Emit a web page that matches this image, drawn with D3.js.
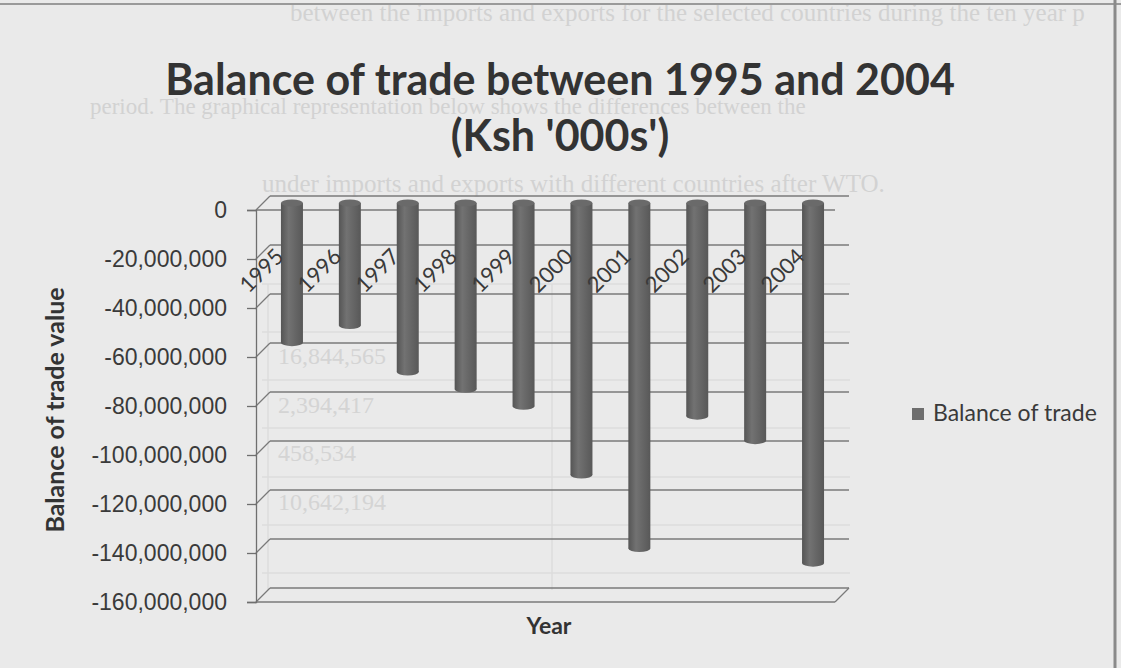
<!DOCTYPE html>
<meta charset="utf-8">
<style>
body { margin: 0; background: #eaeaea; }
svg { display: block; font-family: Lato, "Open Sans", sans-serif; }
.axis path, .axis line { stroke: #6f6f6f; stroke-width: 1.3; fill: none; }
.axis text { fill: #3a3a3a; font-size: 23px; }
.grid line { stroke: #7a7a7a; stroke-width: 1.3; }
.bleed { fill: #d2d2d2; font-family: "Liberation Serif", serif; font-size: 25px; }
.bnum { fill: #d4d4d4; font-family: "Liberation Serif", serif; font-size: 24px; }
.table line { stroke: #dcdcdc; stroke-width: 1.5; }
</style>
<body>
<script src="https://d3js.org/d3.v7.min.js"></script>
<script>
// data (Ksh '000s)
var years = ["1995", "1996", "1997", "1998", "1999", "2000", "2001", "2002", "2003", "2004"];
var balance = [-57000000, -50000000, -69000000, -76000000, -83000000,
               -111000000, -141000000, -87000000, -97000000, -147000000];
var yTicks = [0, -20000000, -40000000, -60000000, -80000000, -100000000,
              -120000000, -140000000, -160000000];
var seriesName = "Balance of trade";
// page text showing through the scan
var bleedLines = [
    "between the imports and exports for the selected countries during the ten year p",
    "period. The graphical representation below shows the differences between the",
    "under imports and exports with different countries after WTO."
];
var bleedNumbers = ["16,844,565", "2,394,417", "458,534", "10,642,194"];

var width = 1121, height = 668;
var dx = 14, dy = -14;          // depth of the 3d box
var barW = 22;

var svg = d3.select("body").append("svg")
    .attr("width", width)
    .attr("height", height);

var defs = svg.append("defs");
var grad = defs.append("linearGradient").attr("id", "cyl");
grad.append("stop").attr("offset", "0%").attr("stop-color", "#555");
grad.append("stop").attr("offset", "35%").attr("stop-color", "#727272");
grad.append("stop").attr("offset", "100%").attr("stop-color", "#585858");

// faint page behind the chart
var bleedPos = [[290, 21], [90, 114], [262, 192]];
svg.selectAll(".bleed").data(bleedLines).enter().append("text")
    .attr("class", "bleed")
    .attr("x", function(d, i) { return bleedPos[i][0]; })
    .attr("y", function(d, i) { return bleedPos[i][1]; })
    .style("font-size", function(d, i) { return i == 1 ? "23px" : null; })
    .text(function(d) { return d; });
svg.selectAll(".bnum").data(bleedNumbers).enter().append("text")
    .attr("class", "bnum")
    .attr("x", 278)
    .attr("y", function(d, i) { return 364 + i * 48.5; })
    .text(function(d) { return d; });
var table = svg.append("g").attr("class", "table");
table.selectAll(".row").data([284, 332, 380, 428, 477, 525, 573]).enter().append("line")
    .attr("x1", 262).attr("x2", 850)
    .attr("y1", function(d) { return d; }).attr("y2", function(d) { return d; });
table.selectAll(".col").data([268, 552]).enter().append("line")
    .attr("x1", function(d) { return d; }).attr("x2", function(d) { return d; })
    .attr("y1", 284).attr("y2", 590);

svg.append("line").attr("x1", 0).attr("x2", width).attr("y1", 4).attr("y2", 4)
    .attr("stroke", "#9a9a9a").attr("stroke-width", 2);
svg.append("line").attr("x1", 1115).attr("x2", 1115).attr("y1", 0).attr("y2", height)
    .attr("stroke", "#8a8a8a").attr("stroke-width", 3);

// scales
var x = d3.scaleBand().domain(years).range([256, 835]);
var y = d3.scaleLinear().domain([-160000000, 0]).range([602, 210]);

var x0 = x.range()[0], x1 = x.range()[1];

// back wall gridlines and side wall diagonals
var grid = svg.append("g").attr("class", "grid");
grid.selectAll(".back").data(yTicks).enter().append("line")
    .attr("x1", x0 + dx).attr("x2", x1 + dx)
    .attr("y1", function(d) { return y(d) + dy; })
    .attr("y2", function(d) { return y(d) + dy; });
grid.selectAll(".side").data(yTicks).enter().append("line")
    .attr("x1", x0).attr("x2", x0 + dx)
    .attr("y1", function(d) { return y(d); })
    .attr("y2", function(d) { return y(d) + dy; });
// front edges of the floor (at 0) and the base
grid.append("line").attr("x1", x0).attr("x2", x1)
    .attr("y1", y(0)).attr("y2", y(0));
grid.append("line").attr("x1", x0).attr("x2", x1)
    .attr("y1", y(-160000000)).attr("y2", y(-160000000));
grid.append("line").attr("x1", x1).attr("x2", x1 + dx)
    .attr("y1", y(-160000000)).attr("y2", y(-160000000) + dy);

// y axis
var fmt = d3.format(",");
svg.append("g")
    .attr("class", "axis")
    .attr("transform", "translate(" + x0 + ",0)")
    .call(d3.axisLeft(y).tickValues(yTicks).tickSizeInner(9).tickSizeOuter(9).tickPadding(20)
        .tickFormat(function(d) { return fmt(d).replace("\u2212", "-"); }));

// cylinders
var data = years.map(function(d, i) { return {year: d, value: balance[i]}; });
var bars = svg.selectAll(".bar").data(data).enter().append("g").attr("class", "bar");
function cx(d) { return x(d.year) + x.bandwidth() / 2 + dx / 2; }
bars.append("rect")
    .attr("x", function(d) { return cx(d) - barW / 2; })
    .attr("y", y(0) + dy / 2)
    .attr("width", barW)
    .attr("height", function(d) { return y(d.value) - y(0); })
    .attr("fill", "url(#cyl)");
bars.append("ellipse")
    .attr("cx", cx)
    .attr("cy", function(d) { return y(d.value) + dy / 2; })
    .attr("rx", barW / 2).attr("ry", 3.5)
    .attr("fill", "url(#cyl)");
bars.append("ellipse")
    .attr("cx", cx)
    .attr("cy", y(0) + dy / 2)
    .attr("rx", barW / 2).attr("ry", 3.5)
    .attr("fill", "#6a6a6a");

// category labels
svg.selectAll(".cat").data(years).enter().append("text")
    .attr("class", "cat")
    .attr("transform", function(d) {
        return "translate(" + (x(d) + x.bandwidth() / 2) + ",258) rotate(-45)";
    })
    .attr("text-anchor", "end")
    .attr("fill", "#3a3a3a")
    .style("font-size", "22px")
    .text(function(d) { return d; });

// title
svg.append("text")
    .attr("x", 560).attr("y", 95)
    .attr("text-anchor", "middle")
    .attr("fill", "#333")
    .style("font-size", "43px").style("font-weight", "bold")
    .text("Balance of trade between 1995 and 2004");
svg.append("text")
    .attr("x", 560).attr("y", 151)
    .attr("text-anchor", "middle")
    .attr("fill", "#333")
    .style("font-size", "43px").style("font-weight", "bold")
    .text("(Ksh '000s')");

// axis titles
svg.append("text")
    .attr("transform", "translate(64,410) rotate(-90)")
    .attr("text-anchor", "middle")
    .attr("fill", "#333")
    .style("font-size", "25px").style("font-weight", "bold")
    .text("Balance of trade value");
svg.append("text")
    .attr("x", 549).attr("y", 634)
    .attr("text-anchor", "middle")
    .attr("fill", "#333")
    .style("font-size", "23px").style("font-weight", "bold")
    .text("Year");

// legend
svg.append("rect")
    .attr("x", 912).attr("y", 408).attr("width", 12).attr("height", 12)
    .attr("fill", "#6e6e6e");
svg.append("text")
    .attr("x", 933).attr("y", 421)
    .attr("fill", "#3a3a3a")
    .style("font-size", "23px")
    .text(seriesName);
</script>
</body>
